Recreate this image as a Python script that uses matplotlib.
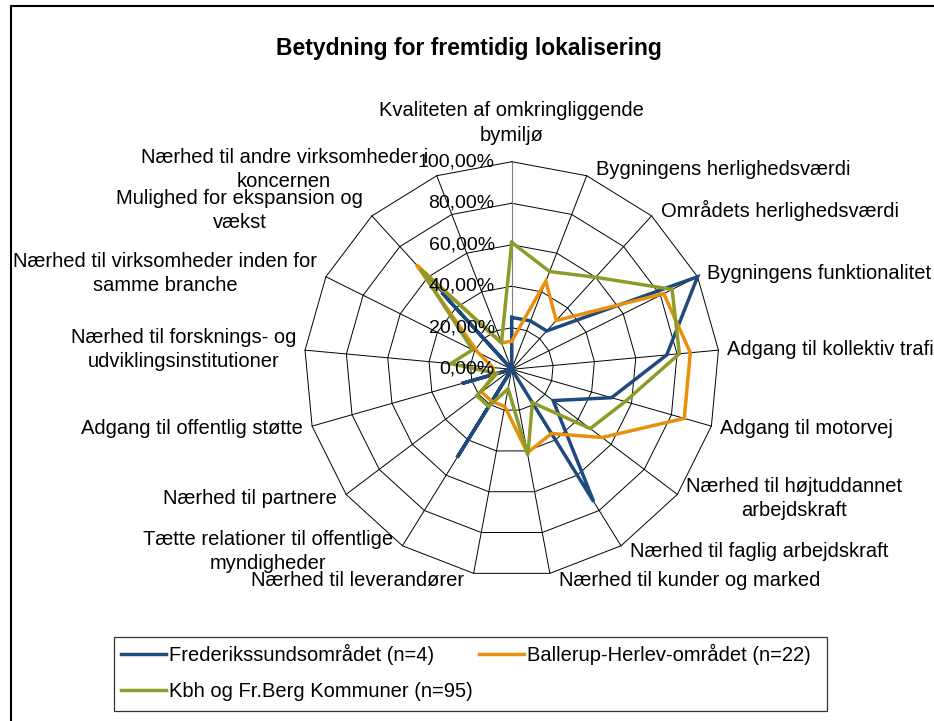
import numpy as np
import matplotlib.pyplot as plt
from matplotlib.patches import Rectangle
from matplotlib.lines import Line2D

plt.rcParams['font.family'] = ['Liberation Sans', 'DejaVu Sans']

# ---------- data (percent) ----------
categories = [
    "Kvaliteten af omkringliggende\nbymiljø",
    "Bygningens herlighedsværdi",
    "Områdets herlighedsværdi",
    "Bygningens funktionalitet",
    "Adgang til kollektiv trafik",
    "Adgang til motorvej",
    "Nærhed til højtuddannet\narbejdskraft",
    "Nærhed til faglig arbejdskraft",
    "Nærhed til kunder og marked",
    "Nærhed til leverandører",
    "Tætte relationer til offentlige\nmyndigheder",
    "Nærhed til partnere",
    "Adgang til offentlig støtte",
    "Nærhed til forsknings- og\nudviklingsinstitutioner",
    "Nærhed til virksomheder inden for\nsamme branche",
    "Mulighed for ekspansion og\nvækst",
    "Nærhed til andre virksomheder i\nkoncernen",
]
frederikssund = [25, 25, 25, 100, 75, 50, 25, 75, 0, 0, 50, 0, 25, 0, 0, 50, 0]
ballerup = [13.6, 45.5, 31.8, 81.8, 86.4, 86.4, 54.5, 36.4, 40.9, 18.2,
            18.2, 18.2, 9.1, 9.1, 18.2, 68.2, 13.6]
kbh = [61.1, 50.5, 60.0, 86.3, 81.1, 56.8, 47.4, 18.9, 42.1, 9.5,
       21.1, 21.1, 7.4, 29.5, 21.1, 65.3, 13.7]
series_names = ["Frederikssundsområdet (n=4)", "Ballerup-Herlev-området (n=22)",
                "Kbh og Fr.Berg Kommuner (n=95)"]
colors = ["#1F4A7C", "#E8900C", "#8F9B28"]
ticks = [0, 20, 40, 60, 80, 100]
tick_labels = ["0,00%", "20,00%", "40,00%", "60,00%", "80,00%", "100,00%"]

n = len(categories)
theta = np.arange(n) * 2 * np.pi / n
theta_c = np.append(theta, theta[0])
px = 0.72  # pixels -> points at 100 dpi

fig = plt.figure(figsize=(9.34, 7.21), dpi=100)
ax = fig.add_axes([0.3256, 0.1999, 0.4446, 0.5758], projection='polar')
ax.set_theta_zero_location('N')
ax.set_theta_direction(-1)
ax.set_ylim(0, 100)
ax.grid(False)
ax.set_xticks([])
ax.set_yticks([])
ax.spines['polar'].set_visible(False)
ax.patch.set_visible(False)

# polygon grid + spokes
for r in ticks[1:]:
    ax.plot(theta_c, [r] * (n + 1), color='black', lw=0.7, zorder=1, clip_on=False)
for i, t in enumerate(theta):
    ax.plot([t, t], [0, 100], color='#808080' if i == 0 else 'black',
            lw=0.8 if i == 0 else 0.7, zorder=1, clip_on=False)

# series
for vals, c, name in zip([frederikssund, ballerup, kbh], colors, series_names):
    ax.plot(theta_c, list(vals) + [vals[0]], color=c, lw=2.5, zorder=3,
            clip_on=False, solid_joinstyle='miter', label=name)

# value axis labels
for r, lbl in zip(ticks, tick_labels):
    ax.annotate(lbl, xy=(0, r), xytext=(-17 * px, 0), textcoords='offset points',
                ha='right', va='center', fontsize=14, color='black',
                annotation_clip=False, zorder=4)

# category labels
for k, (t, lbl) in enumerate(zip(theta, categories)):
    s, c = np.sin(t), np.cos(t)
    if k == 0:
        ha, va, off = 'center', 'bottom', (0, 17)
    else:
        ha = 'left' if s > 0 else 'right'
        va = 'center'
        off = (np.sign(s) * 9, c * 7)
    ax.annotate(lbl, xy=(t, 100), xytext=(off[0] * px, off[1] * px),
                textcoords='offset points', ha=ha, va=va, multialignment='center',
                fontsize=14.5, linespacing=1.35, annotation_clip=False)

# title
fig.text(469 / 934, 1 - 48 / 721, "Betydning for fremtidig lokalisering",
         ha='center', va='center', fontsize=16.5, fontweight='bold')

# chart area border (left/top visible)
fig.add_artist(Rectangle((11 / 934, -0.2), 1.2, 1 - 6 / 721 + 0.2,
                         transform=fig.transFigure, fill=False,
                         ec='black', lw=1.5))

# legend box and entries
fig.add_artist(Rectangle((114 / 934, 1 - 711 / 721), (827 - 114) / 934, (711 - 637) / 721,
                         transform=fig.transFigure, fill=False, ec='#333333', lw=0.9))
leg_h = [Line2D([], [], color=colors[0], lw=2.5),
         Line2D([], [], color=colors[2], lw=2.5),
         Line2D([], [], color=colors[1], lw=2.5)]
leg_l = [series_names[0], series_names[2], series_names[1]]
fig.legend(leg_h, leg_l, ncol=2, loc='upper left',
           bbox_to_anchor=(120.7 / 934, 1 - 644 / 721), frameon=False,
           fontsize=14.5, handlelength=2.25, handletextpad=0.15,
           columnspacing=0.3, labelspacing=0.85, borderpad=0, borderaxespad=0)

fig.savefig("out.png", dpi=100)
